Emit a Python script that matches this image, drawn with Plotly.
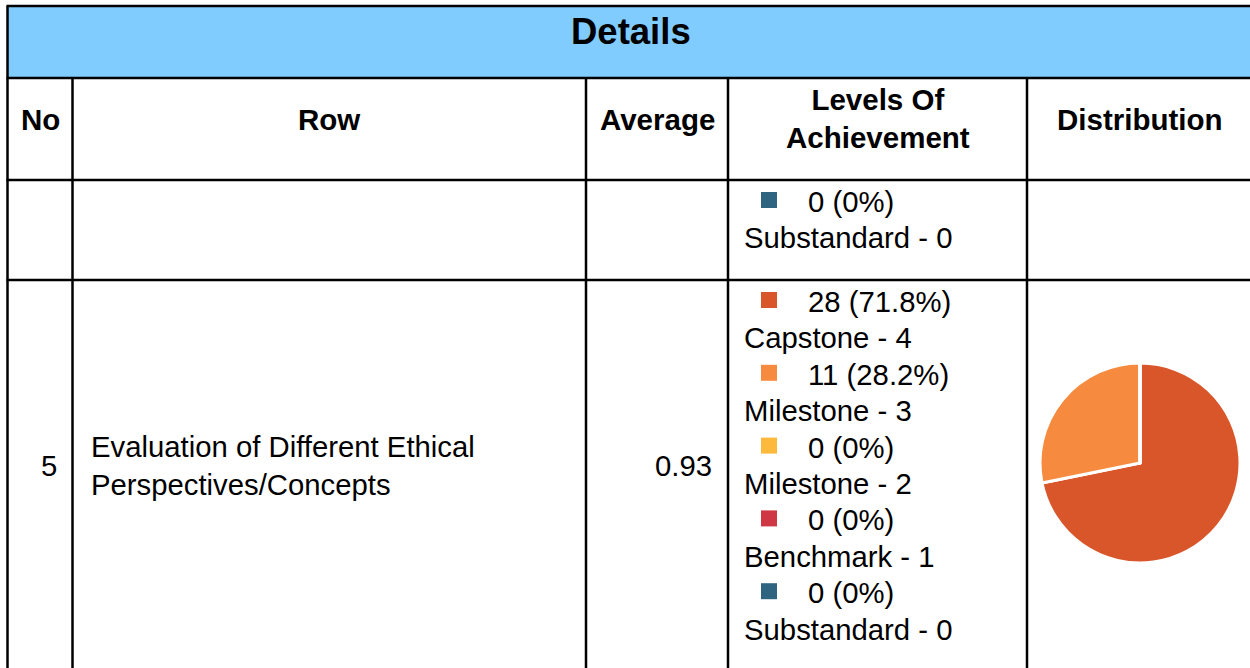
import plotly.graph_objects as go

# ---------------- data ----------------
title = "Details"
headers = ["No", "Row", "Average", "Levels Of<br>Achievement", "Distribution"]

# tail of the previous row (only its last level is visible)
prev_levels = ["Substandard - 0"]
prev_counts = [0]
prev_colors = ["#2E6480"]

row_no = "5"
row_name = "Evaluation of Different Ethical<br>Perspectives/Concepts"
row_average = 0.93
levels = ["Capstone - 4", "Milestone - 3", "Milestone - 2", "Benchmark - 1", "Substandard - 0"]
counts = [28, 11, 0, 0, 0]
level_colors = ["#D9552A", "#F68B40", "#FDB93B", "#D03745", "#2E6480"]

# ---------------- layout constants ----------------
W, H = 1250, 668
FONT = "Liberation Sans, Arial, sans-serif"
LINE = "#000000"
HEAD_BG = "#80CCFF"
BODY = 29.3
HEAD = 29.5
col_x = [7.5, 72.5, 586, 728, 1027, 1252]
y_top, y_head, y_cols, y_row1 = 6, 78, 180, 280
STEP = 36.4


def fmt(c, total):
    p = 100.0 * c / total if total else 0
    ps = f"{p:.1f}".rstrip("0").rstrip(".")
    return f"{c} ({ps}%)"


fig = go.Figure()
shapes = []
ann = []

# header band
shapes.append(dict(type="rect", x0=col_x[0], x1=col_x[-1], y0=y_top, y1=y_head,
                   fillcolor=HEAD_BG, line=dict(width=0), layer="below"))
# horizontal lines
for yy in [y_top, y_head, y_cols, y_row1]:
    shapes.append(dict(type="line", x0=col_x[0] - 1, x1=col_x[-1], y0=yy, y1=yy,
                       line=dict(color=LINE, width=2.5)))
# outer left border
shapes.append(dict(type="line", x0=col_x[0], x1=col_x[0], y0=y_top, y1=H + 2,
                   line=dict(color=LINE, width=2.5)))
# column separators
for xx in col_x[1:-1]:
    shapes.append(dict(type="line", x0=xx, x1=xx, y0=y_head, y1=H + 2,
                       line=dict(color=LINE, width=2.5)))

# title
ann.append(dict(x=631, y=31, text=f"<b>{title}</b>", showarrow=False,
                font=dict(size=36.5, color="black", family=FONT), xanchor="center", yanchor="middle"))
# headers
hdr_y = [119, 119, 119, 118, 119]
for i, h in enumerate(headers):
    cx = (col_x[i] + col_x[i + 1]) / 2
    if i == 4:
        cx = 1140
    ann.append(dict(x=cx, y=hdr_y[i], text=f"<b>{h}</b>", showarrow=False,
                    font=dict(size=HEAD, color="black", family=FONT),
                    xanchor="center", yanchor="middle", align="center"))

# level entries
sq_x, sq_y, sq_c = [], [], []


def add_levels(names, cnts, cols, top, total):
    for i, (n, c, col) in enumerate(zip(names, cnts, cols)):
        y1 = top + 21.5 + 2 * i * STEP
        y2 = y1 + STEP
        sq_x.append(769)
        sq_y.append(y1 - 1.5)
        sq_c.append(col)
        ann.append(dict(x=806, y=y1, text=fmt(c, total), showarrow=False,
                        font=dict(size=BODY, color="black", family=FONT),
                        xanchor="left", yanchor="middle"))
        ann.append(dict(x=742, y=y2, text=n, showarrow=False,
                        font=dict(size=BODY, color="black", family=FONT),
                        xanchor="left", yanchor="middle"))


add_levels(prev_levels, prev_counts, prev_colors, y_cols, 0)
add_levels(levels, counts, level_colors, y_row1, sum(counts))

# row 5 cells
ann.append(dict(x=59, y=465, text=row_no, showarrow=False,
                font=dict(size=BODY, color="black", family=FONT), xanchor="right", yanchor="middle"))
ann.append(dict(x=89, y=465, text=row_name, showarrow=False, align="left",
                font=dict(size=BODY, color="black", family=FONT), xanchor="left", yanchor="middle"))
ann.append(dict(x=714, y=465, text=f"{row_average:.2f}", showarrow=False,
                font=dict(size=BODY, color="black", family=FONT), xanchor="right", yanchor="middle"))

fig.add_trace(go.Scatter(x=sq_x, y=sq_y, mode="markers", hoverinfo="skip",
                         marker=dict(symbol="square", size=16, color=sq_c, line=dict(width=0)),
                         showlegend=False))

# pie (domain given in page pixels, converted to paper fractions)
pc_x, pc_y, r = 1140, 463, 100
fig.add_trace(go.Pie(labels=levels, values=counts, sort=False, direction="clockwise", rotation=0,
                     marker=dict(colors=level_colors, line=dict(color="white", width=3)),
                     textinfo="none", hoverinfo="label+value+percent", showlegend=False,
                     domain=dict(x=[(pc_x - r) / W, (pc_x + r) / W],
                                 y=[1 - (pc_y + r) / H, 1 - (pc_y - r) / H])))

fig.update_layout(width=W, height=H, margin=dict(l=0, r=0, t=0, b=0),
                  paper_bgcolor="white", plot_bgcolor="white",
                  xaxis=dict(range=[0, W], visible=False, fixedrange=True),
                  yaxis=dict(range=[H, 0], visible=False, fixedrange=True),
                  shapes=shapes, annotations=ann, showlegend=False)

fig.write_html("out.html", config={"displayModeBar": False},
               post_script="document.body.style.margin='0';document.body.style.overflow='hidden';")
